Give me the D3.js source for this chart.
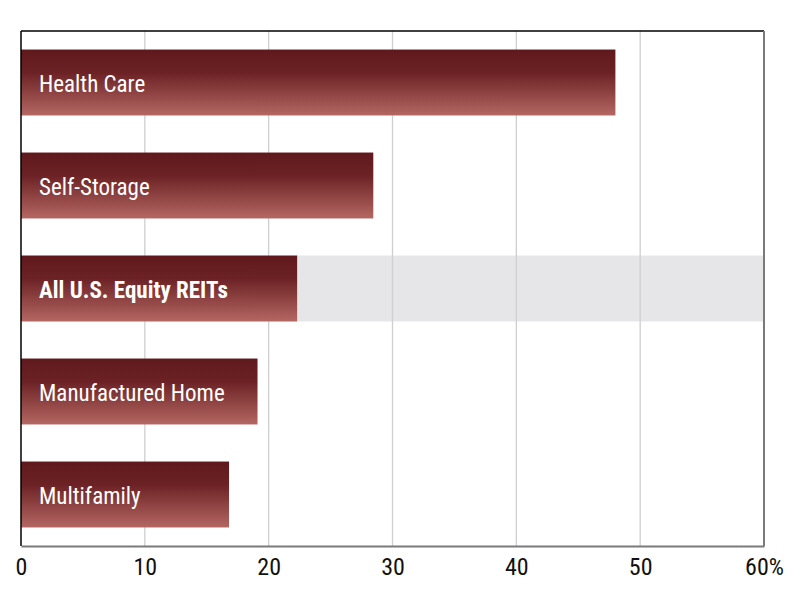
<!DOCTYPE html>
<html>
<head>
<meta charset="utf-8">
<script src="https://cdn.jsdelivr.net/npm/d3@7"></script>
<style>
  body { margin: 0; background: #fff; }
  svg { display: block; }
</style>
</head>
<body>
<svg id="chart" width="800" height="600"></svg>
<script>
const categories = ["Health Care", "Self-Storage", "All U.S. Equity REITs", "Manufactured Home", "Multifamily"];
const values = [48.0, 28.45, 22.3, 19.1, 16.8];
const highlighted = ["All U.S. Equity REITs"];
const tickValues = [0, 10, 20, 30, 40, 50, 60];

const svg = d3.select("#chart");
const width = 800, height = 600;
const margin = { top: 31, right: 36, bottom: 54, left: 21 };
const innerWidth = width - margin.left - margin.right;
const innerHeight = height - margin.top - margin.bottom;
const font = "'Roboto Condensed', 'Liberation Sans Narrow', 'Arial Narrow', 'Liberation Sans', sans-serif";

const defs = svg.append("defs");
const grad = defs.append("linearGradient")
    .attr("id", "barGrad")
    .attr("x1", 0).attr("y1", 0).attr("x2", 0).attr("y2", 1);
grad.append("stop").attr("offset", "0%").attr("stop-color", "#5f191c");
grad.append("stop").attr("offset", "35%").attr("stop-color", "#6c2225");
grad.append("stop").attr("offset", "100%").attr("stop-color", "#b46762");

const g = svg.append("g")
    .attr("transform", `translate(${margin.left},${margin.top})`);

const x = d3.scaleLinear().domain([0, 60]).range([0, innerWidth]);
const y = d3.scaleBand().domain(categories).range([0, innerHeight]).paddingInner(0.36).paddingOuter(0.18);

// highlight band
g.selectAll("rect.band")
    .data(categories.filter(c => highlighted.includes(c)))
    .enter().append("rect")
    .attr("class", "band")
    .attr("x", 0)
    .attr("y", d => y(d))
    .attr("width", innerWidth)
    .attr("height", y.bandwidth())
    .attr("fill", "#e6e6e8");

// gridlines
g.selectAll("line.grid")
    .data(tickValues.slice(1, -1))
    .enter().append("line")
    .attr("class", "grid")
    .attr("x1", d => x(d)).attr("x2", d => x(d))
    .attr("y1", 0).attr("y2", innerHeight)
    .attr("stroke", "#cfcfcf")
    .attr("stroke-width", 1.3);

// bars
g.selectAll("rect.bar")
    .data(categories)
    .enter().append("rect")
    .attr("class", "bar")
    .attr("x", 0)
    .attr("y", d => y(d))
    .attr("width", (d, i) => x(values[i]))
    .attr("height", y.bandwidth())
    .attr("fill", "url(#barGrad)");

// labels inside bars
g.selectAll("text.label")
    .data(categories)
    .enter().append("text")
    .attr("class", "label")
    .attr("x", 18)
    .attr("y", d => y(d) + y.bandwidth() / 2)
    .attr("dy", "0.42em")
    .attr("fill", "#fff")
    .style("font-family", font)
    .style("font-size", "23px")
    .style("font-weight", d => highlighted.includes(d) ? "bold" : "normal")
    .text(d => d);

// frame
g.append("line").attr("x1", 0).attr("x2", innerWidth).attr("y1", 0).attr("y2", 0)
    .attr("stroke", "#000").attr("stroke-width", 1.5);
g.append("line").attr("x1", 0).attr("x2", 0).attr("y1", 0).attr("y2", innerHeight)
    .attr("stroke", "#000").attr("stroke-width", 1.5);
g.append("line").attr("x1", innerWidth).attr("x2", innerWidth).attr("y1", 0).attr("y2", innerHeight)
    .attr("stroke", "#7a7a7a").attr("stroke-width", 2);

// x axis
const xAxis = g.append("g")
    .attr("transform", `translate(0,${innerHeight})`)
    .call(d3.axisBottom(x).tickValues(tickValues).tickSize(0).tickPadding(12)
        .tickFormat(d => d === 60 ? d + "%" : d));
xAxis.select(".domain").attr("stroke", "#7a7a7a").attr("stroke-width", 2);
xAxis.selectAll("text")
    .attr("fill", "#111")
    .style("font-family", font)
    .style("font-size", "24px");
</script>
</body>
</html>
